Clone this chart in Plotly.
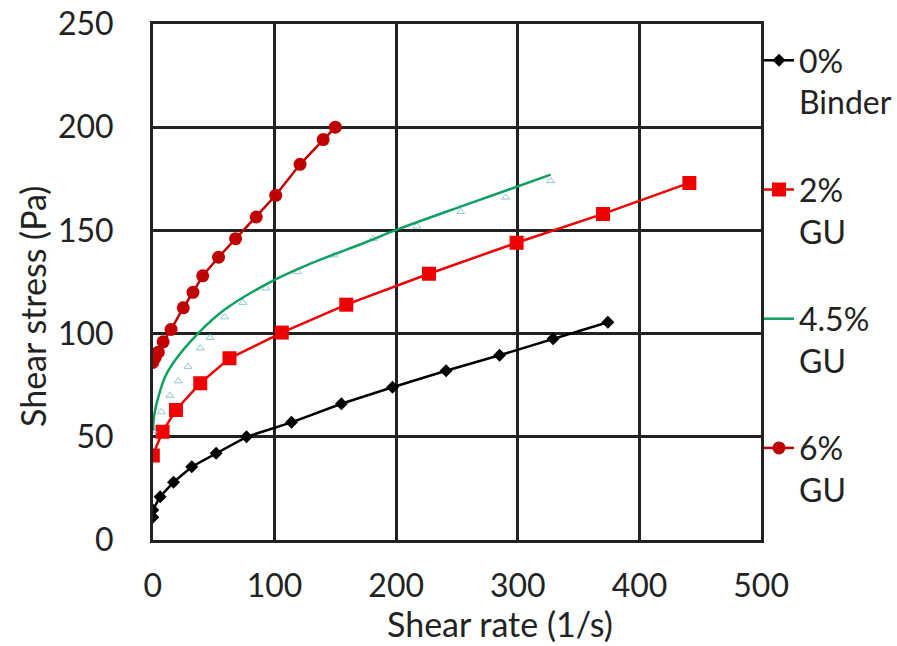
import plotly.graph_objects as go

# ---- data ----
x_binder = [0, 0, 6, 17, 32, 52, 77, 114, 155, 197, 241, 285, 329, 374]
y_binder = [11, 14.5, 21, 28, 35.5, 42, 50, 57, 66, 74, 82, 89.5, 97.5, 105.5]

x_gu2 = [0, 8, 19, 39, 63, 106, 159, 227, 299, 370, 441]
y_gu2 = [41, 52.5, 63, 76, 88, 100.5, 114, 129, 144, 158, 173]

# 4.5% GU: measured points (small open triangles)
x_gu45 = [0, 7, 14, 21, 29, 39, 47, 59, 74, 93, 119, 149, 181, 217, 253, 290, 327]
y_gu45 = [53, 62, 70, 77, 84, 93, 98, 108, 115, 122, 130, 138, 146, 152, 159, 166, 174]
# 4.5% GU: fitted curve (green line)
x_gu45_fit = [0.2, 1, 4.4, 10, 17, 37, 60, 100, 130, 174, 199, 260, 327]
y_gu45_fit = [53, 60, 69, 79, 86, 100, 112, 126, 134, 144, 150, 163, 177]

x_gu6 = [0, 2, 4.5, 8.5, 15, 25, 33, 41, 54, 68, 85, 101, 121, 140, 150]
y_gu6 = [86, 88.5, 91, 96, 102, 112.5, 120, 128, 137, 146, 156.5, 167, 182, 194, 200]

names = ["0%<br>Binder", "2%<br>GU", "4.5%<br>GU", "6%<br>GU"]
x_ticks = [0, 100, 200, 300, 400, 500]
y_ticks = [0, 50, 100, 150, 200, 250]

FONT = "Lato"
INK = "#222222"
W, H = 897, 646

fig = go.Figure()
fig.add_trace(go.Scatter(
    x=x_binder, y=y_binder, mode="lines+markers", name=names[0], legendgroup="a",
    line=dict(color="black", width=2.5),
    marker=dict(symbol="diamond", size=10, color="black")))
fig.add_trace(go.Scatter(
    x=x_gu2, y=y_gu2, mode="lines+markers", name=names[1], legendgroup="b",
    line=dict(color="#f00000", width=2.5),
    marker=dict(symbol="square", size=14, color="#f00000")))
fig.add_trace(go.Scatter(
    x=x_gu45, y=y_gu45, mode="markers", name="4.5% GU data", legendgroup="c",
    showlegend=False,
    marker=dict(symbol="triangle-up-open", size=7, color="#8cc8d0", line=dict(width=1))))
fig.add_trace(go.Scatter(
    x=x_gu45_fit, y=y_gu45_fit, mode="lines", name=names[2], legendgroup="c",
    line=dict(color="#0fa060", width=2.5, shape="spline", smoothing=1.0)))
fig.add_trace(go.Scatter(
    x=x_gu6, y=y_gu6, mode="lines+markers", name=names[3], legendgroup="d",
    line=dict(color="#c00000", width=2.5),
    marker=dict(symbol="circle", size=13, color="#c00000")))

axis_common = dict(
    showgrid=True, gridcolor=INK, gridwidth=2.5,
    showline=True, linecolor=INK, linewidth=2.5, mirror=True,
    zeroline=False, ticks="", automargin=False,
    tickfont=dict(family=FONT, size=32, color=INK),
)

fig.update_xaxes(range=[0, 500], tickvals=x_ticks, ticklabelstandoff=16,
                 domain=[153 / W, 762 / W], **axis_common)
fig.update_yaxes(range=[0, 250], tickvals=y_ticks, ticklabelstandoff=30,
                 domain=[1 - 540 / H, 1 - 24 / H], **axis_common)

fig.add_annotation(text="Shear rate (1/s)", xref="paper", yref="paper",
                   x=501 / W, y=1 - 623 / H, showarrow=False,
                   font=dict(family=FONT, size=34, color=INK),
                   xanchor="center", yanchor="middle")
fig.add_annotation(text="Shear stress (Pa)", xref="paper", yref="paper",
                   x=33 / W, y=1 - 306 / H, showarrow=False,
                   textangle=-90,
                   font=dict(family=FONT, size=34, color=INK),
                   xanchor="center", yanchor="middle")

fig.update_layout(
    width=W, height=H,
    margin=dict(l=0, r=0, t=0, b=0),
    plot_bgcolor="white", paper_bgcolor="white",
    font=dict(family=FONT, color=INK),
    legend=dict(x=760 / W, xanchor="left", y=1 - 33 / H, yanchor="top",
                font=dict(family=FONT, size=32, color=INK),
                tracegroupgap=43, valign="top", itemwidth=30,
                borderwidth=0, bgcolor="rgba(0,0,0,0)"),
)

fig.write_html("out.html")
